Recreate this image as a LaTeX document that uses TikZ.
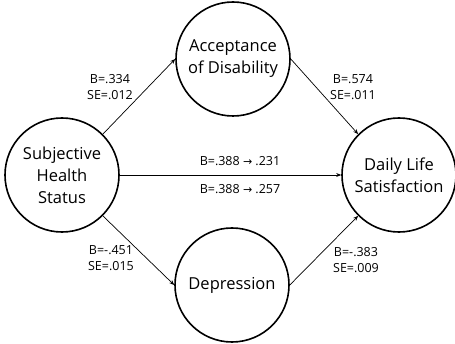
\documentclass[tikz,border=0pt]{standalone}
\usepackage{fontspec}
\setmainfont{Open Sans}
\newfontfamily\arrowfont{DejaVu Sans}
\usepackage{tikz}
\usetikzlibrary{arrows.meta}

\begin{document}
\begin{tikzpicture}[x=1pt,y=1pt,every text node part/.style={align=center},
  var/.style={circle, draw, line width=1.6pt, minimum size=114pt, inner sep=0pt, font=\fontsize{16.5}{22}\selectfont},
  coef/.style={font=\fontsize{12.5}{15.5}\selectfont, align=left},
  path/.style={-{Stealth[length=5pt,width=4pt]}, line width=0.7pt}]

  \useasboundingbox (0,0) rectangle (455,343);

  \node[var] (health) at (62,168) {Subjective \\ Health \\ Status};
  \node[var] (accept) at (233,284) {Acceptance \\ of Disability};
  \node[var] (depress) at (232,58) {Depression};
  \node[var] (satisf) at (399,168) {Daily Life \\ Satisfaction};

  % paths
  \draw[path] (health.north east) -- (accept.west);
  \draw[path] (accept.east) -- (satisf.north west);
  \draw[path] (health.south east) -- (depress.west);
  \draw[path] (depress.east) -- (satisf.south west);
  \draw[path] (health) -- (satisf);

  \node[coef] (c1) at (110,256) {B=.334 \\ SE=.012};
  \node[coef] (c2) at (353,256) {B=.574 \\ SE=.011};
  \node[coef] (c3) at (111,85) {B=-.451 \\ SE=.015};
  \node[coef] (c4) at (356,83) {B=-.383 \\ SE=.009};

  % direct effect
  \node[coef] (d1) at (240,182) {B=.388 {\arrowfont\fontsize{11}{11}\selectfont →} .231};
  \node[coef] (d2) at (240,154) {B=.388 {\arrowfont\fontsize{11}{11}\selectfont →} .257};

\end{tikzpicture}
\end{document}
